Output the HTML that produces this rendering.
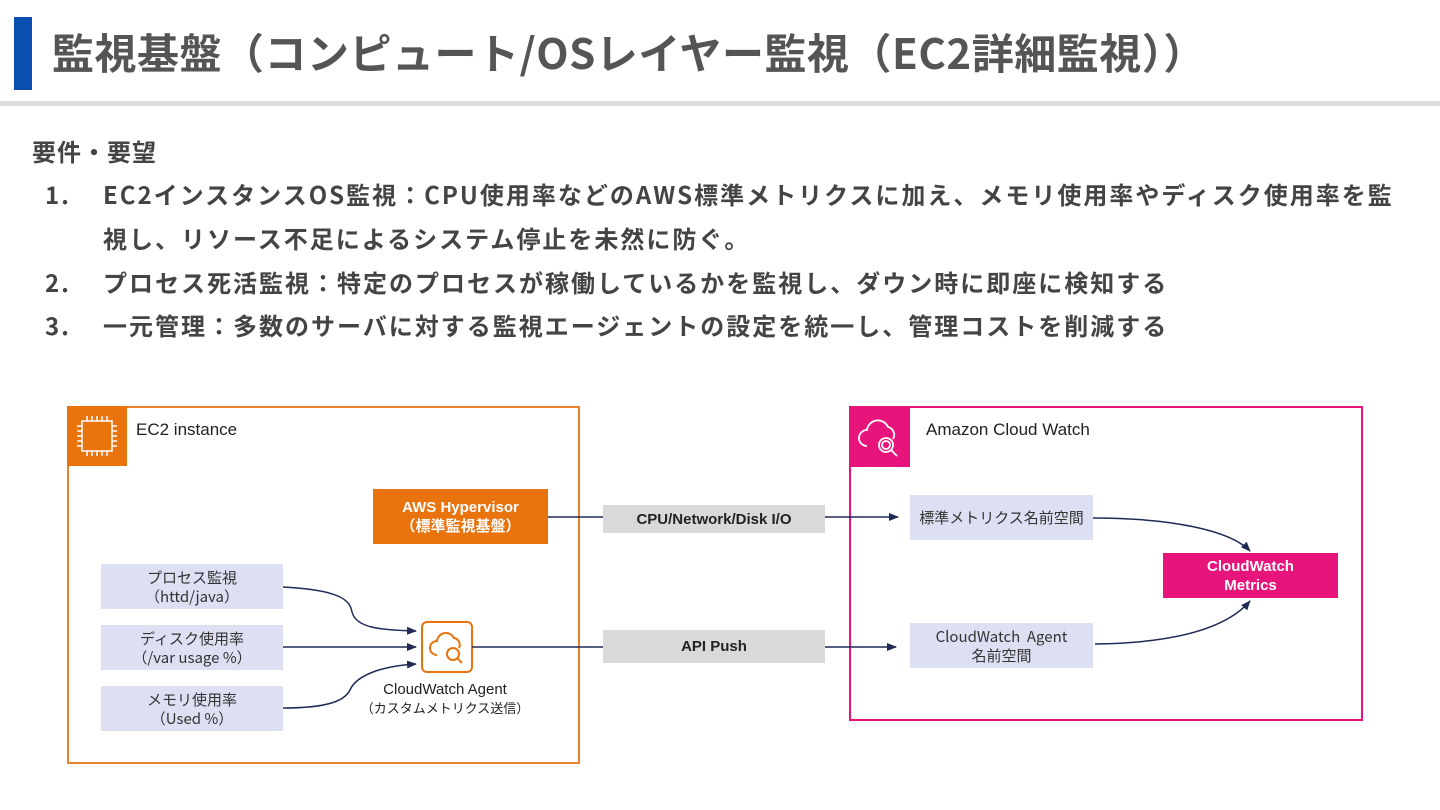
<!DOCTYPE html>
<html><head><meta charset="utf-8"><style>
body{margin:0;width:1440px;height:810px;background:#fff;position:relative;overflow:hidden;font-family:"Liberation Sans","Noto Sans CJK JP",sans-serif;}
.a{position:absolute;}
.bar{left:14px;top:17px;width:18px;height:73px;background:#0a4fb0;}
.title{left:52px;top:22px;font:bold 42px "Noto Sans CJK JP",sans-serif;color:#555;white-space:nowrap;line-height:60px;letter-spacing:0.5px;}
.line{left:0;top:101px;width:1440px;height:5px;background:#ddd;}
.t{font:bold 24px "Noto Sans CJK JP",sans-serif;color:#444;white-space:nowrap;line-height:30px;letter-spacing:2px;}
.box{position:absolute;background:#dde0f3;color:#333;font:15px "Noto Sans CJK JP",sans-serif;text-align:center;display:flex;align-items:center;justify-content:center;line-height:19px;}
.lbl{position:absolute;background:#d9d9d9;color:#222;font:bold 15px "Liberation Sans",sans-serif;display:flex;align-items:center;justify-content:center;}
</style></head><body>
<div class="a bar"></div>
<div class="a title">監視基盤（コンピュート/OSレイヤー監視（EC2詳細監視））</div>
<div class="a line"></div>
<div class="a t" style="left:32px;top:136px;letter-spacing:1px">要件・要望</div>
<div class="a t" style="left:45px;top:179px">1.</div>
<div class="a t" style="left:103px;top:179px">EC2インスタンスOS監視：CPU使用率などのAWS標準メトリクスに加え、メモリ使用率やディスク使用率を監</div>
<div class="a t" style="left:103px;top:223px">視し、リソース不足によるシステム停止を未然に防ぐ。</div>
<div class="a t" style="left:45px;top:267px">2.</div>
<div class="a t" style="left:103px;top:267px">プロセス死活監視：特定のプロセスが稼働しているかを監視し、ダウン時に即座に検知する</div>
<div class="a t" style="left:45px;top:310px">3.</div>
<div class="a t" style="left:103px;top:310px">一元管理：多数のサーバに対する監視エージェントの設定を統一し、管理コストを削減する</div>

<!-- EC2 -->
<div class="a" style="left:67px;top:406px;width:509px;height:354px;border:2px solid #e8822e;"></div>
<div class="a" style="left:67px;top:406px;width:60px;height:60px;background:#e9730c;"></div>
<svg class="a" style="left:67px;top:406px" width="60" height="60"><g stroke="#fff" stroke-width="1.5" fill="none"><rect x="15" y="15" width="30" height="30"/><path d="M20 15v-5M25 15v-5M30 15v-5M35 15v-5M40 15v-5M20 45v5M25 45v5M30 45v5M35 45v5M40 45v5M15 20h-5M15 25h-5M15 30h-5M15 35h-5M15 40h-5M45 20h5M45 25h5M45 30h5M45 35h5M45 40h5"/></g></svg>
<div class="a" style="left:136px;top:420px;font:17px 'Liberation Sans',sans-serif;color:#222">EC2 instance</div>
<div class="a" style="left:373px;top:489px;width:175px;height:55px;background:#e9730c;color:#fff;font:bold 15px 'Liberation Sans','Noto Sans CJK JP',sans-serif;text-align:center;display:flex;align-items:center;justify-content:center;line-height:19px">AWS Hypervisor<br>（標準監視基盤）</div>
<div class="box" style="left:101px;top:564px;width:182px;height:45px">プロセス監視<br>（httd/java）</div>
<div class="box" style="left:101px;top:625px;width:182px;height:45px">ディスク使用率<br>（/var usage %）</div>
<div class="box" style="left:101px;top:686px;width:182px;height:45px">メモリ使用率<br>（Used %）</div>
<div class="a" style="left:421px;top:621px;width:48px;height:48px;border:2px solid #e9730c;border-radius:6px;background:#fff"></div>
<svg class="a" style="left:421px;top:621px" width="52" height="52"><g stroke="#e9730c" stroke-width="2" fill="none"><path d="M16 34a7 7 0 0 1 0-14a9 9 0 0 1 17-3a7 7 0 0 1 5 10"/><circle cx="32" cy="33" r="6"/><path d="M36 37l5 5"/></g></svg>
<div class="a" style="left:360px;top:680px;width:170px;text-align:center;font:15px 'Liberation Sans','Noto Sans CJK JP',sans-serif;color:#222;line-height:19px">CloudWatch Agent<br><span style="font-size:13px">（カスタムメトリクス送信）</span></div>

<!-- CloudWatch -->
<div class="a" style="left:849px;top:406px;width:510px;height:311px;border:2px solid #e7157b;"></div>
<div class="a" style="left:849px;top:406px;width:61px;height:61px;background:#e7157b;"></div>
<svg class="a" style="left:849px;top:406px" width="61" height="61"><g stroke="#fff" stroke-width="1.8" fill="none"><path d="M18 40a8 8 0 0 1 0-16a11 11 0 0 1 21-3a8 8 0 0 1 5 12"/><circle cx="37" cy="39" r="7"/><circle cx="37" cy="39" r="4"/><path d="M42 44l6 6"/></g></svg>
<div class="a" style="left:926px;top:420px;font:17px 'Liberation Sans',sans-serif;color:#222">Amazon Cloud Watch</div>
<div class="box" style="left:910px;top:495px;width:183px;height:45px">標準メトリクス名前空間</div>
<div class="box" style="left:910px;top:623px;width:183px;height:45px">CloudWatch&nbsp; Agent<br>名前空間</div>
<div class="a" style="left:1163px;top:553px;width:175px;height:45px;background:#e7157b;color:#fff;font:bold 15px 'Liberation Sans',sans-serif;text-align:center;display:flex;align-items:center;justify-content:center;line-height:19px">CloudWatch<br>Metrics</div>

<svg class="a" style="left:0;top:0" width="1440" height="810">
<defs><marker id="ar" markerWidth="10" markerHeight="8" refX="9" refY="4" orient="auto" markerUnits="userSpaceOnUse"><path d="M0 0L10 4L0 8z" fill="#1f2a55"/></marker></defs>
<g stroke="#1f2a55" stroke-width="1.5" fill="none">
<path d="M548 517H898" marker-end="url(#ar)"/>
<path d="M472 647H896" marker-end="url(#ar)"/>
<path d="M283 587C340 590 350 600 352 612C356 628 380 630 416 631" marker-end="url(#ar)"/>
<path d="M283 647H416" marker-end="url(#ar)"/>
<path d="M283 708C330 708 345 700 350 690C356 676 380 666 416 664" marker-end="url(#ar)"/>
<path d="M1093 518C1170 518 1230 530 1250 551" marker-end="url(#ar)"/>
<path d="M1095 644C1170 643 1225 630 1250 601" marker-end="url(#ar)"/>
</g></svg>
<div class="lbl" style="left:603px;top:505px;width:222px;height:28px">CPU/Network/Disk I/O</div>
<div class="lbl" style="left:603px;top:630px;width:222px;height:33px">API Push</div>
</body></html>
